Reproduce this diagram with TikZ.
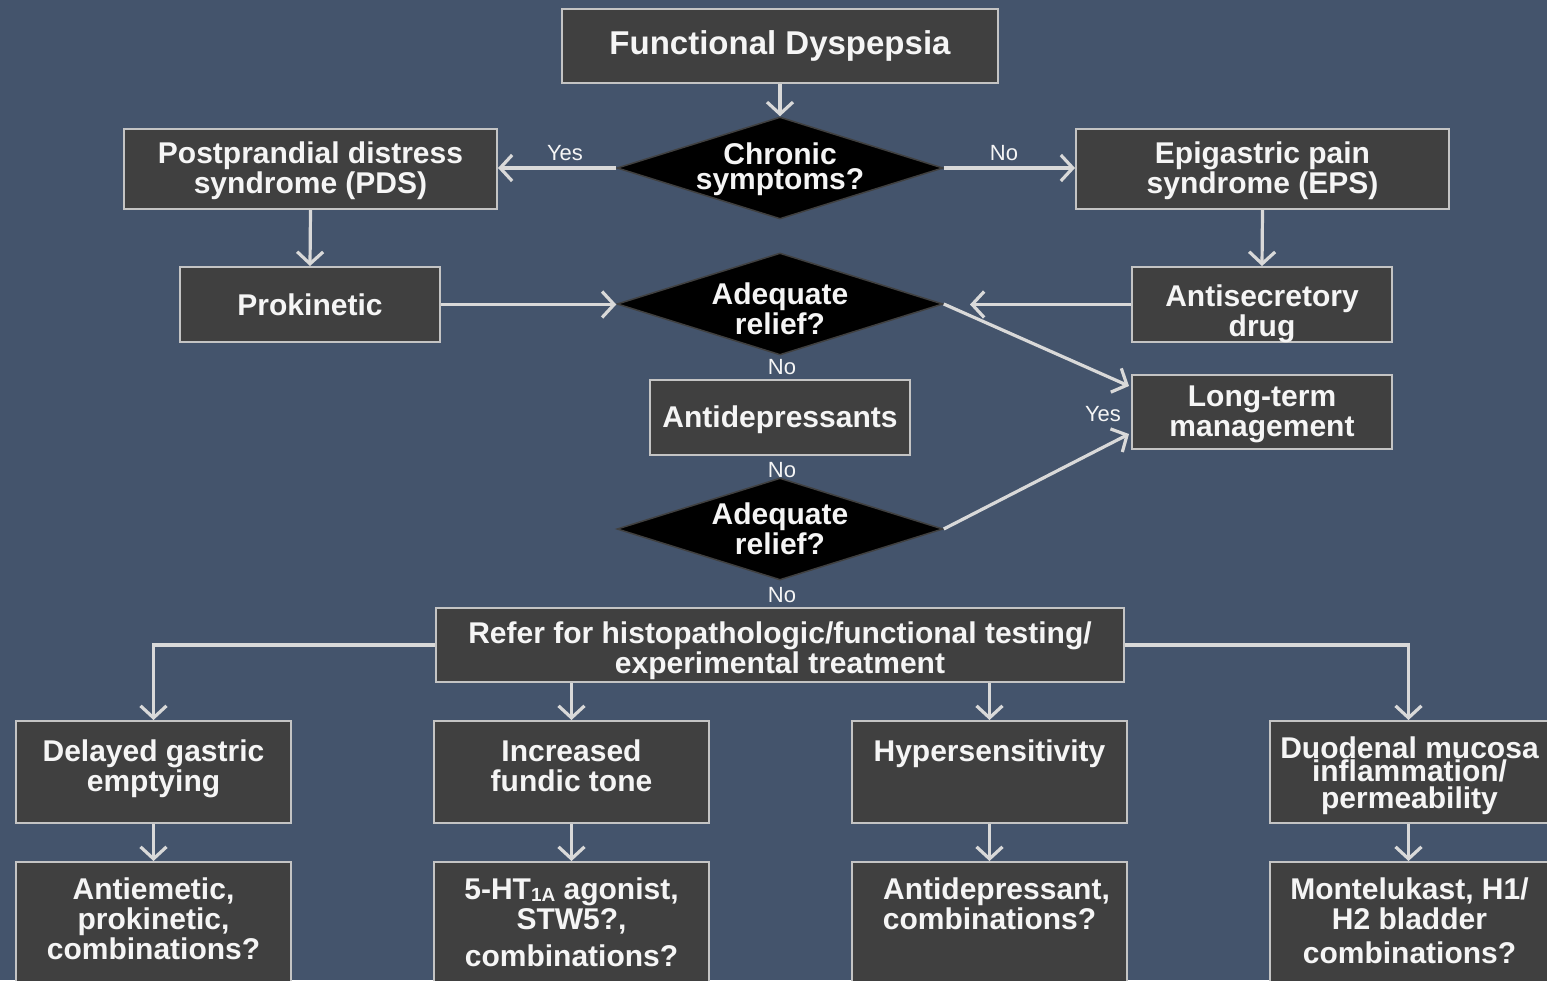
\documentclass[tikz,border=0pt]{standalone}
\usepackage{fontspec}
\setmainfont{Liberation Sans}
\usetikzlibrary{shapes.geometric,arrows.meta,calc}
\definecolor{bgc}{HTML}{44546C}
\definecolor{boxfill}{HTML}{404040}
\definecolor{boxline}{HTML}{C4C4C4}
\definecolor{arr}{HTML}{D9D9D9}
\definecolor{txt}{HTML}{F5F5F5}
\newcommand\tbx[3]{\parbox[c][#1][t]{#2}{\centering #3}}
\begin{document}
\begin{tikzpicture}[x=1pt,y=-1pt,
  box/.style={draw=boxline, line width=2pt, fill=boxfill, text=txt,
    font=\fontsize{30}{30}\selectfont\bfseries, align=center, inner sep=0pt},
  dec/.style={shape=diamond, draw=black!75, line width=1.5pt, fill=black,
    inner sep=0pt, minimum width=326pt, minimum height=102pt},
  dlab/.style={text=txt, font=\fontsize{30}{30}\selectfont\bfseries, align=center, inner sep=0pt},
  yn/.style={text=txt, font=\fontsize{22}{22}\selectfont, inner sep=0pt},
  conn/.style={draw=arr, line width=3.2pt, -{Straight Barb[length=12pt,width=26pt]}},
]
\useasboundingbox (0,0) rectangle (1547,980);
\clip (0,0) rectangle (1547,980);
\fill[bgc] (0,0) rectangle (1547,980);

% top
\node[box, minimum width=436pt, minimum height=74pt, font=\fontsize{33}{33}\selectfont\bfseries] (fd) at (780,46) {Functional Dyspepsia};
\node[dec] (d1) at (780,168) {};
\node[dlab] (d1t) at (780,169) {Chronic\\[-5pt]symptoms?};
\node[box, minimum width=373pt, minimum height=80pt] (pds) at (310.5,169) {\tbx{54pt}{365pt}{Postprandial distress\\syndrome (PDS)}};
\node[box, minimum width=373pt, minimum height=80pt] (eps) at (1262.5,169) {\tbx{54pt}{365pt}{Epigastric pain\\syndrome (EPS)}};
\node[yn] (yes1) at (565,153) {Yes};
\node[yn] (no1) at (1004,153) {No};

% middle
\node[box, minimum width=260pt, minimum height=75pt] (prok) at (310,304.5) {Prokinetic};
\node[box, minimum width=260pt, minimum height=75pt] (antis) at (1262,304.5) {\tbx{39pt}{255pt}{Antisecretory\\drug}};
\node[dec] (d2) at (780,304) {};
\node[dlab] (d2t) at (780,308.5) {Adequate\\relief?};
\node[box, minimum width=260pt, minimum height=74pt] (lt) at (1262,412) {\tbx{52pt}{255pt}{Long-term\\management}};
\node[yn] (no2) at (782,367) {No};
\node[box, minimum width=260pt, minimum height=75pt] (antid) at (780,417.5) {\tbx{23pt}{255pt}{Antidepressants}};
\node[yn] (no3) at (782,470) {No};
\node[dec] (d3) at (780,529) {};
\node[dlab] (d3t) at (780,528.5) {Adequate\\relief?};
\node[yn] (yes2) at (1103,414) {Yes};
\node[yn] (no4) at (782,595) {No};
\node[box, minimum width=688pt, minimum height=74pt] (refer) at (780,645) {\tbx{46pt}{680pt}{Refer for histopathologic/functional testing/\\experimental treatment}};

% bottom rows
\node[box, minimum width=275pt, minimum height=102pt] (b1) at (153.5,772) {\tbx{64pt}{270pt}{Delayed gastric\\emptying}};
\node[box, minimum width=275pt, minimum height=102pt] (b2) at (571.5,772) {\tbx{64pt}{270pt}{Increased\\fundic tone}};
\node[box, minimum width=275pt, minimum height=102pt] (b3) at (989.5,772) {\tbx{64pt}{270pt}{Hypersensitivity}};
\node[box, minimum width=279pt, minimum height=102pt] (b4) at (1409.5,772) {\tbx{70pt}{275pt}{Duodenal mucosa\\[-7pt]inflammation/\\[-3pt]permeability}};

\node[box, minimum width=275pt, minimum height=140pt] (c1) at (153.5,932) {\tbx{108pt}{270pt}{Antiemetic,\\prokinetic,\\combinations?}};
\node[box, minimum width=275pt, minimum height=140pt] (c2) at (571.5,932) {\tbx{108pt}{270pt}{5-HT{\fontsize{19}{19}\selectfont\raisebox{-2pt}{1A}} agonist,\\STW5?,\\[7pt]combinations?}};
\node[box, minimum width=275pt, minimum height=140pt] (c3) at (989.5,932) {\tbx{108pt}{270pt}{\hspace*{14pt}Antidepressant,\\combinations?}};
\node[box, minimum width=279pt, minimum height=140pt] (c4) at (1409.5,932) {\tbx{108pt}{275pt}{Montelukast, H1/\\H2 bladder\\[4pt]combinations?}};

% connectors
\draw[conn] (fd.south) -- (d1.north);
\draw[conn] (d1.west) -- (d1.west -| pds.east);
\draw[conn] (d1.east) -- (d1.east -| eps.west);
\draw[conn] (pds.south) -- (prok.north);
\draw[conn] (eps.south) -- (antis.north);
\draw[conn] (prok.east) -- (prok.east -| d2.west);
\coordinate (d2r) at (970,304.5);
\draw[conn] (antis.west) -- (d2r);
\coordinate (ltin1) at ($(lt.north west)+(-2,12)$);
\coordinate (ltin2) at ($(lt.south west)+(-2,-16)$);
\draw[conn] (d2.east) -- (ltin1);
\draw[conn] (d3.east) -- (ltin2);
\draw[conn] (refer.west) -| (b1.north);
\draw[conn] (refer.east) -| ([xshift=-1pt]b4.north);
\draw[conn] (refer.south -| b2.north) -- (b2.north);
\draw[conn] (refer.south -| b3.north) -- (b3.north);
\draw[conn] (b1.south) -- (c1.north);
\draw[conn] (b2.south) -- (c2.north);
\draw[conn] (b3.south) -- (c3.north);
\draw[conn] ([xshift=-1pt]b4.south) -- ([xshift=-1pt]c4.north);
\end{tikzpicture}
\end{document}
